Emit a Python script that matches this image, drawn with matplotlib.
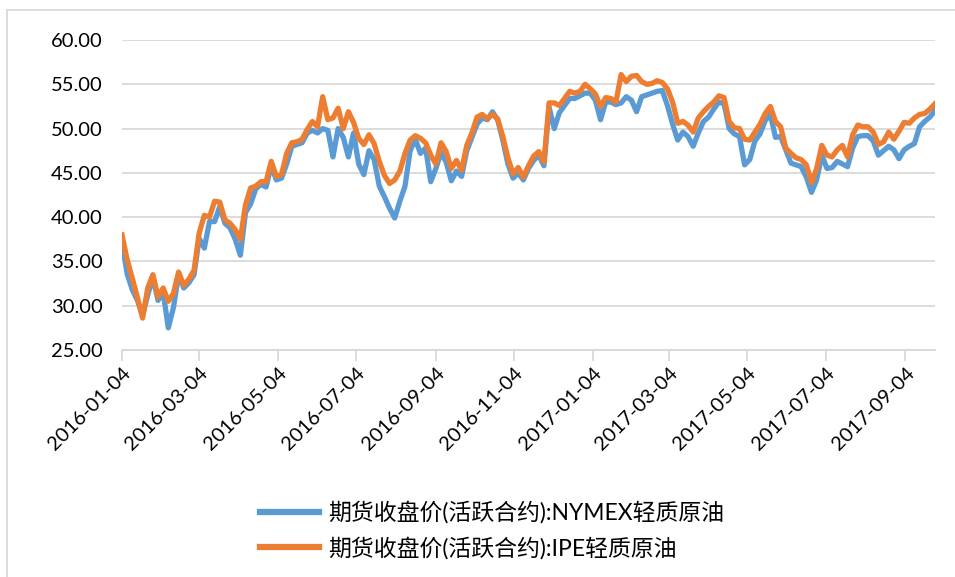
import pandas as pd
import matplotlib
matplotlib.use("Agg")
import matplotlib.pyplot as plt
import matplotlib.dates as mdates
from matplotlib.lines import Line2D

plt.rcParams['font.family'] = ['Lato', 'Noto Sans CJK SC', 'DejaVu Sans']

dates = pd.date_range('2016-01-04', periods=159, freq='4D')

nymex = [37.2, 33.6, 31.8, 30.6, 28.9, 31.2, 33.2, 30.6, 31.5, 27.5,
         29.8, 33.5, 32.0, 32.6, 33.5, 37.6, 36.5, 39.5, 39.5, 41.2,
         39.3, 38.8, 37.5, 35.7, 40.5, 41.5, 43.2, 43.7, 43.4, 45.8,
         44.2, 44.4, 46.0, 48.0, 48.2, 48.4, 49.5, 49.8, 49.5, 50.0,
         49.8, 46.8, 50.0, 49.0, 46.8, 49.5, 46.0, 44.8, 47.5, 46.5,
         43.5, 42.3, 41.0, 39.9, 41.8, 43.5, 47.5, 48.8, 47.2, 47.8,
         44.0, 45.5, 47.3, 46.2, 44.1, 45.2, 44.6, 47.5, 49.0, 50.5,
         51.2, 51.0, 51.9, 51.0, 48.7, 46.0, 44.4, 45.0, 44.2, 45.5,
         46.4, 47.0, 45.8, 52.4, 50.0, 51.8, 52.6, 53.4, 53.4, 53.7,
         54.0, 54.0, 53.2, 51.0, 53.0, 53.0, 52.7, 52.9, 53.6, 53.2,
         51.9, 53.6, 53.8, 54.0, 54.2, 54.3, 52.6, 50.5, 48.7, 49.6,
         49.1, 48.0, 49.5, 50.8, 51.3, 52.2, 53.0, 52.8, 50.0, 49.4,
         49.1, 45.9, 46.5, 48.6, 49.4, 50.9, 51.6, 49.0, 49.1, 47.6,
         46.1, 45.9, 45.7, 44.5, 42.8, 44.2, 47.0, 45.5, 45.6, 46.3,
         46.0, 45.7, 47.8, 49.1, 49.2, 49.2, 48.6, 47.0, 47.5, 48.0,
         47.6, 46.6, 47.6, 48.0, 48.3, 50.2, 50.8, 51.3, 52.0]

ipe = [38.0, 35.2, 33.1, 30.9, 28.6, 32.0, 33.5, 31.0, 32.0, 30.5,
       31.4, 33.8, 32.3, 33.0, 34.0, 38.2, 40.2, 40.0, 41.8, 41.7,
       39.7, 39.3, 38.6, 37.5, 41.4, 43.3, 43.5, 44.0, 44.0, 46.3,
       44.6, 44.8, 47.2, 48.4, 48.5, 48.8, 49.9, 50.8, 50.2, 53.6,
       51.0, 51.2, 52.3, 50.0, 51.9, 50.7, 48.9, 48.2, 49.3, 48.3,
       46.3, 44.7, 43.8, 44.2, 45.2, 47.2, 48.7, 49.2, 48.9, 48.4,
       47.0, 46.0, 48.4, 47.4, 45.5, 46.4, 45.3, 48.1, 49.5, 51.3,
       51.6, 51.1, 51.6, 51.1, 49.1, 46.7, 44.9, 45.6, 44.5, 45.8,
       46.9, 47.4, 46.2, 52.9, 52.9, 52.6, 53.4, 54.2, 54.0, 54.2,
       55.0, 54.5, 53.9, 52.5, 53.5, 53.4, 53.0, 56.1, 55.3, 55.9,
       56.0, 55.3, 55.0, 55.1, 55.4, 55.2, 54.5, 53.0, 50.6, 50.8,
       50.4, 49.6, 51.2, 51.9, 52.5, 53.0, 53.7, 53.5, 50.8, 50.1,
       50.0, 48.8, 48.7, 49.6, 50.5, 51.7, 52.5, 50.8, 50.2, 47.8,
       47.2, 46.7, 46.5, 45.9, 43.9, 45.5, 48.1, 47.0, 46.8, 47.6,
       48.1, 46.8, 49.3, 50.4, 50.2, 50.2, 49.6, 48.2, 48.5, 49.6,
       48.8, 49.7, 50.7, 50.6, 51.2, 51.6, 51.7, 52.2, 52.8]

tick_dates = pd.date_range('2016-01-01', '2017-09-01', freq='2MS') + pd.Timedelta(days=3)
labels = ['期货收盘价(活跃合约):NYMEX轻质原油', '期货收盘价(活跃合约):IPE轻质原油']
colors = ['#5B9BD5', '#ED7D31']

fig = plt.figure(figsize=(9.55, 5.77), dpi=100)
ax = fig.add_axes([122/955, 1 - 350/577, (935 - 122)/955, 310/577])

ax.plot(dates, nymex, color=colors[0], lw=3.8, solid_joinstyle='round')
ax.plot(dates, ipe, color=colors[1], lw=3.8, solid_joinstyle='round')

ax.set_ylim(25, 60)
ax.set_yticks(range(25, 61, 5))
ax.yaxis.set_major_formatter(plt.FuncFormatter(lambda v, p: f'{v:.2f}'))
ax.set_xlim(dates[0], dates[-1])
ax.set_xticks(tick_dates)
ax.xaxis.set_major_formatter(mdates.DateFormatter('%Y-%m-%d'))

ax.grid(True, axis='y', color='#d9d9d9', lw=1.3)
ax.set_axisbelow(True)
for s in ['left', 'right', 'top']:
    ax.spines[s].set_visible(False)
ax.spines['bottom'].set_color('#d9d9d9')
ax.spines['bottom'].set_linewidth(1.3)
ax.tick_params(axis='y', length=0, pad=14, labelsize=14.5)
ax.tick_params(axis='x', direction='out', length=8, width=1.3, color='#d9d9d9',
               labelsize=14.5, pad=2)
for t in ax.get_xticklabels():
    t.set_rotation(45)
    t.set_ha('right')
    t.set_rotation_mode('anchor')

handles = [Line2D([], [], color=c, lw=4.5) for c in colors]
fig.legend(handles, labels, loc='center', bbox_to_anchor=(492/955, 1 - 530/577),
           frameon=False, fontsize=16.5, handlelength=2.6, handletextpad=0.4,
           labelspacing=0.55)

# chart area border
fig.add_artist(Line2D([7/955, 7/955], [0, 1 - 10/577], color='#d9d9d9', lw=1.3))
fig.add_artist(Line2D([7/955, 1], [1 - 10/577, 1 - 10/577], color='#d9d9d9', lw=1.3))

fig.savefig('out.png', dpi=100)
